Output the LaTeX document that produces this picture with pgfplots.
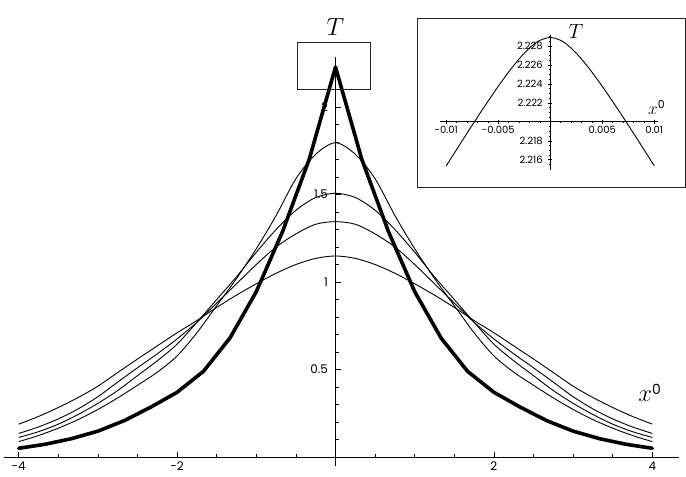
\documentclass[border=0pt]{standalone}
\usepackage{pgfplots}
\pgfplotsset{compat=1.18}
\usepackage{fontspec}
\setmainfont{Poppins}
\begin{document}
\begin{tikzpicture}
\begin{axis}[name=main,
  scale only axis, width=675.7bp, height=409bp,
  xmin=-4.19, xmax=4.342, ymin=-0.05, ymax=2.287,
  axis lines=middle, axis line style={line width=0.8bp,-},
  clip=false,
  xtick={-4,-2,2,4}, xticklabels={-4,-2,2,4},
  minor xtick={-3.5,-3,-2.5,-1.5,-1,-0.5,0.5,1,1.5,2.5,3,3.5},
  ytick={0.5,1,1.5,2}, yticklabels={0.5,1,1.5,2},
  minor ytick={0.1,0.2,0.3,0.4,0.6,0.7,0.8,0.9,1.1,1.2,1.3,1.4,1.6,1.7,1.8,1.9,2.1,2.2},
  tick align=inside,
  major tick length=5bp, minor tick length=3bp,
  every tick/.style={line width=0.7bp, black},
  xticklabel style={font=\fontsize{12}{12}\selectfont, anchor=north, yshift=-1bp},
  yticklabel style={font=\fontsize{12}{12}\selectfont, anchor=east, xshift=-4bp},
]
\addplot[black, line width=3.6bp, line join=round, line cap=round] coordinates {
(-4,0.05) (-3.667,0.073) (-3.333,0.105) (-3,0.148) (-2.667,0.208) (-2.333,0.285)
(-2,0.37) (-1.667,0.49) (-1.333,0.68) (-1,0.945) (-0.667,1.29) (-0.333,1.70)
(0,2.228)
(0.333,1.70) (0.667,1.29) (1,0.945) (1.333,0.68) (1.667,0.49) (2,0.37)
(2.333,0.285) (2.667,0.208) (3,0.148) (3.333,0.105) (3.667,0.073) (4,0.05)};
% A
\addplot[black, line width=0.9bp, smooth] coordinates {
(-4,0.088) (-3.75,0.123) (-3.5,0.165) (-3.25,0.214) (-3,0.272) (-2.75,0.338) (-2.5,0.41)
(-2.25,0.485) (-2,0.578) (-1.75,0.71) (-1.5,0.865) (-1.25,1.02) (-1,1.19) (-0.75,1.38)
(-0.5,1.59) (-0.25,1.73) (0,1.796) (0.25,1.73) (0.5,1.59) (0.75,1.38) (1,1.19)
(1.25,1.02) (1.5,0.865) (1.75,0.71) (2,0.578) (2.25,0.485) (2.5,0.41) (2.75,0.338)
(3,0.272) (3.25,0.214) (3.5,0.165) (3.75,0.123) (4,0.088)};
% B
\addplot[black, line width=0.9bp, smooth] coordinates {
(-4,0.112) (-3.75,0.145) (-3.5,0.188) (-3.25,0.243) (-3,0.307) (-2.75,0.38) (-2.5,0.465)
(-2.25,0.55) (-2,0.645) (-1.75,0.77) (-1.5,0.90) (-1.25,1.03) (-1,1.17) (-0.75,1.30)
(-0.5,1.41) (-0.25,1.483) (0,1.507) (0.25,1.483) (0.5,1.41) (0.75,1.30) (1,1.17)
(1.25,1.03) (1.5,0.90) (1.75,0.77) (2,0.645) (2.25,0.55) (2.5,0.465) (2.75,0.38)
(3,0.307) (3.25,0.243) (3.5,0.188) (3.75,0.145) (4,0.112)};
% C
\addplot[black, line width=0.9bp, smooth] coordinates {
(-4,0.135) (-3.75,0.172) (-3.5,0.218) (-3.25,0.275) (-3,0.345) (-2.75,0.428) (-2.5,0.51)
(-2.25,0.59) (-2,0.675) (-1.75,0.77) (-1.5,0.88) (-1.25,0.99) (-1,1.10) (-0.75,1.20)
(-0.5,1.275) (-0.25,1.33) (0,1.345) (0.25,1.33) (0.5,1.275) (0.75,1.20) (1,1.10)
(1.25,0.99) (1.5,0.88) (1.75,0.77) (2,0.675) (2.25,0.59) (2.5,0.51) (2.75,0.428)
(3,0.345) (3.25,0.275) (3.5,0.218) (3.75,0.172) (4,0.135)};
% D
\addplot[black, line width=0.9bp, smooth] coordinates {
(-4,0.188) (-3.75,0.232) (-3.5,0.283) (-3.25,0.34) (-3,0.405) (-2.75,0.483) (-2.5,0.56)
(-2.25,0.635) (-2,0.71) (-1.75,0.78) (-1.5,0.855) (-1.25,0.925) (-1,0.99) (-0.75,1.05)
(-0.5,1.10) (-0.25,1.135) (0,1.149) (0.25,1.135) (0.5,1.10) (0.75,1.05) (1,0.99)
(1.25,0.925) (1.5,0.855) (1.75,0.78) (2,0.71) (2.25,0.635) (2.5,0.56) (2.75,0.483)
(3,0.405) (3.25,0.34) (3.5,0.283) (3.75,0.232) (4,0.188)};
\draw[line width=0.8bp, black!85] (axis cs:-0.48,2.103) rectangle (axis cs:0.436,2.369);
\node[anchor=base, inner sep=0pt, font=\fontsize{30}{30}\selectfont] at (axis cs:0,2.406) {$T$};
\node[anchor=base west, inner sep=0pt, font=\fontsize{28}{28}\selectfont] at (axis cs:3.82,0.316) {$x$\raisebox{7bp}{\fontsize{14}{14}\selectfont 0}};
\draw[line width=0.9bp, black!85] (axis cs:1.029,2.5086) rectangle (axis cs:4.413,1.5429);
\node[anchor=base, inner sep=0pt, font=\fontsize{19.5}{19.5}\selectfont] at (axis cs:3.037,2.3926) {$T$};
\node[anchor=base west, inner sep=0pt, font=\fontsize{18}{18}\selectfont] at (axis cs:3.946,1.958) {$x$\raisebox{6bp}{\fontsize{11}{11}\selectfont 0}};
\coordinate (insetSW) at (axis cs:1.3194,1.64);
\coordinate (pageSW) at (axis cs:-4.2361,-0.10857);
\coordinate (pageNE) at (axis cs:4.4255,2.61143);
\end{axis}
\begin{axis}[at={(insetSW)}, anchor=south west,
  scale only axis, width=218.4bp, height=134.6bp,
  xmin=-0.0106, xmax=0.0104, ymin=2.21492, ymax=2.22913,
  y coord trafo/.code={\pgfmathparse{#1-2.22}},
  y coord inv trafo/.code={\pgfmathparse{#1+2.22}},
  axis lines=middle, axis line style={line width=0.8bp,-},
  clip=false,
  scaled x ticks=false, scaled y ticks=false,
  xtick={-0.01,-0.005,0.005,0.01}, xticklabels={-0.01,-0.005,0.005,0.01},
  minor xtick={-0.009,-0.008,-0.007,-0.006,-0.004,-0.003,-0.002,-0.001,0.001,0.002,0.003,0.004,0.006,0.007,0.008,0.009},
  ytick={2.216,2.218,2.222,2.224,2.226,2.228}, yticklabels={2.216,2.218,2.222,2.224,2.226,2.228},
  minor ytick={2.2155,2.2165,2.217,2.2175,2.2185,2.219,2.2195,2.2205,2.221,2.2215,2.2225,2.223,2.2235,2.2245,2.225,2.2255,2.2265,2.227,2.2275,2.2285,2.229},
  tick align=center,
  major tick length=4bp, minor tick length=2.5bp,
  every tick/.style={line width=0.6bp, black},
  xticklabel style={font=\fontsize{10}{10}\selectfont, anchor=north, yshift=1bp},
  yticklabel style={font=\fontsize{10}{10}\selectfont, anchor=east, xshift=-2bp},
]
\addplot[black, line width=0.9bp, smooth] coordinates {
(-0.01,2.21536) (-0.00875,2.21752) (-0.0075,2.21966) (-0.00625,2.22174) (-0.005,2.22375)
(-0.00375,2.22562) (-0.0025,2.22725) (-0.00125,2.22845) (0,2.2289)
(0.00125,2.22845) (0.0025,2.22725) (0.00375,2.22562) (0.005,2.22375) (0.00625,2.22174)
(0.0075,2.21966) (0.00875,2.21752) (0.01,2.21536)};
\end{axis}
\pgfresetboundingbox
\path[use as bounding box] (pageSW) rectangle (pageNE);
\end{tikzpicture}
\end{document}
